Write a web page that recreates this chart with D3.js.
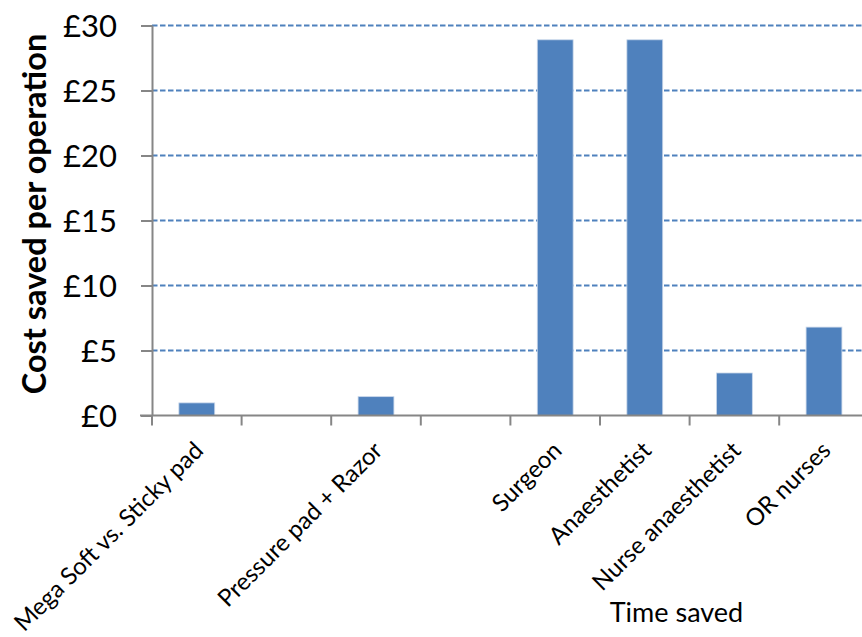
<!DOCTYPE html>
<html>
<head>
<meta charset="utf-8">
<script src="https://cdn.jsdelivr.net/npm/d3@7"></script>
<style>
  html, body { margin: 0; padding: 0; background: #ffffff; }
  svg { display: block; font-family: Lato, "Open Sans", sans-serif; }
</style>
</head>
<body>
<svg id="chart" width="862" height="637"></svg>
<script>
// Cost saved per operation, by item (blank slots are spacer categories)
const categories = [
  "Mega Soft vs. Sticky pad",
  "",
  "Pressure pad + Razor",
  "",
  "Surgeon",
  "Anaesthetist",
  "Nurse anaesthetist",
  "OR nurses"
];
const savings = [0.97, null, 1.45, null, 28.9, 28.9, 3.27, 6.8];
const yTicks = [0, 5, 10, 15, 20, 25, 30];
const yTickLabels = ["£0", "£5", "£10", "£15", "£20", "£25", "£30"];
const yTitle = "Cost saved per operation";
const xTitle = "Time saved";

const svg = d3.select("#chart");
const blue = "#4F81BD";
const axisGrey = "#868686";

const plot = { left: 152, top: 25.5, bottom: 415.5, step: 89.6 };

const x = d3.scaleBand()
  .domain(d3.range(categories.length))
  .range([plot.left, plot.left + plot.step * categories.length])
  .paddingInner(0.6)
  .paddingOuter(0.3);

const y = d3.scaleLinear()
  .domain([0, 30])
  .range([plot.bottom, plot.top]);

// dashed horizontal gridlines
svg.append("g")
  .selectAll("line")
  .data(yTicks.filter(d => d > 0))
  .join("line")
  .attr("x1", plot.left)
  .attr("x2", 862)
  .attr("y1", d => y(d))
  .attr("y2", d => y(d))
  .attr("stroke", blue)
  .attr("stroke-width", 1.8)
  .attr("stroke-dasharray", "5.5,2.5");

// bars
svg.append("g")
  .selectAll("rect")
  .data(savings.map((v, i) => ({ i, v })).filter(d => d.v != null))
  .join("rect")
  .attr("x", d => x(d.i))
  .attr("width", x.bandwidth())
  .attr("y", d => y(d.v))
  .attr("height", d => y(0) - y(d.v))
  .attr("fill", blue)
  .attr("stroke", "#c9d7ea")
  .attr("stroke-width", 0.8);

// y axis
const yAxis = d3.axisLeft(y)
  .tickValues(yTicks)
  .tickFormat((d, i) => yTickLabels[i])
  .tickSize(11)
  .tickPadding(24);

const gy = svg.append("g")
  .attr("transform", `translate(${plot.left},0)`)
  .call(yAxis);
gy.select(".domain").attr("stroke", axisGrey).attr("stroke-width", 2)
  .attr("d", `M0.5,${plot.top}V${plot.bottom}`);
gy.selectAll(".tick line").attr("stroke", axisGrey).attr("stroke-width", 2);
gy.selectAll(".tick text")
  .attr("font-family", "Lato, sans-serif")
  .attr("font-size", 31)
  .attr("fill", "#000")
  .attr("dy", "0.36em");

// x axis: ticks at category boundaries
const boundaries = d3.range(categories.length + 1).map(i => plot.left + i * plot.step);
const gx = svg.append("g");
gx.append("line")
  .attr("x1", plot.left - 12)
  .attr("x2", 862)
  .attr("y1", plot.bottom)
  .attr("y2", plot.bottom)
  .attr("stroke", axisGrey)
  .attr("stroke-width", 2);
gx.selectAll("line.tick")
  .data(boundaries)
  .join("line")
  .attr("class", "tick")
  .attr("x1", d => d)
  .attr("x2", d => d)
  .attr("y1", plot.bottom)
  .attr("y2", plot.bottom + 10)
  .attr("stroke", axisGrey)
  .attr("stroke-width", 2);

// rotated category labels
svg.append("g")
  .selectAll("text")
  .data(categories.map((c, i) => ({ c, i })).filter(d => d.c))
  .join("text")
  .attr("transform", d => `translate(${x(d.i) + x.bandwidth() / 2 + 8},452) rotate(-45)`)
  .attr("text-anchor", "end")
  .attr("font-size", 24)
  .attr("fill", "#000")
  .text(d => d.c);

// axis titles
svg.append("text")
  .attr("transform", "translate(46,214) rotate(-90)")
  .attr("text-anchor", "middle")
  .attr("font-weight", "bold")
  .attr("font-size", 32.5)
  .attr("fill", "#000")
  .text(yTitle);

svg.append("text")
  .attr("x", 676.5)
  .attr("y", 622)
  .attr("text-anchor", "middle")
  .attr("font-size", 27)
  .attr("fill", "#000")
  .text(xTitle);
</script>
</body>
</html>
